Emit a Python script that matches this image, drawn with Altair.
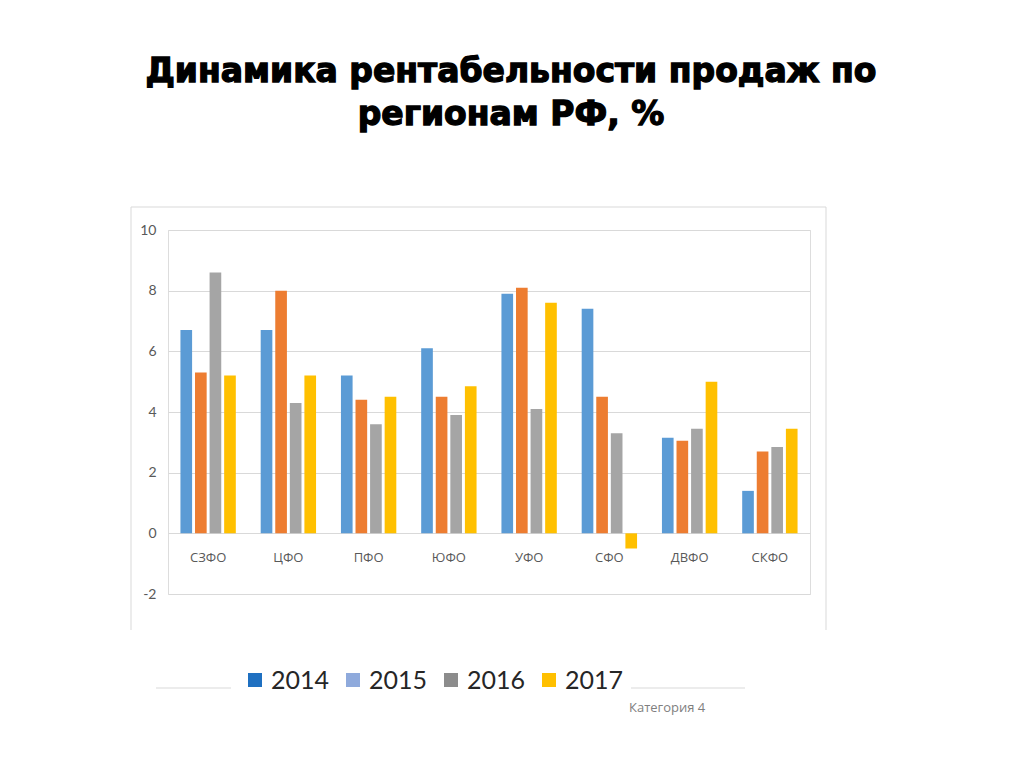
import altair as alt
import pandas as pd

regions = ["СЗФО", "ЦФО", "ПФО", "ЮФО", "УФО", "СФО", "ДВФО", "СКФО"]
years = ["2014", "2015", "2016", "2017"]
v2014 = [6.7, 6.7, 5.2, 6.1, 7.9, 7.4, 3.15, 1.4]
v2015 = [5.3, 8.0, 4.4, 4.5, 8.1, 4.5, 3.05, 2.7]
v2016 = [8.6, 4.3, 3.6, 3.9, 4.1, 3.3, 3.45, 2.85]
v2017 = [5.2, 5.2, 4.5, 4.85, 7.6, -0.5, 5.0, 3.45]
bar_colors = ["#5B9BD5", "#ED7D31", "#A5A5A5", "#FFC000"]
legend_colors = ["#1F70C1", "#8FAADC", "#8C8C8C", "#FFC000"]
title_lines = ["Динамика рентабельности продаж по", "регионам РФ, %"]
footer = "Категория 4"

rows = []
for yr, vals in zip(years, [v2014, v2015, v2016, v2017]):
    for r, v in zip(regions, vals):
        rows.append({"region": r, "year": yr, "value": v})
df = pd.DataFrame(rows)
df_reg = pd.DataFrame({"region": regions})
one = pd.DataFrame({"a": [0]})

W, H = 642, 364

xscale = alt.Scale(domain=regions, paddingInner=0.31, paddingOuter=0.155)

bars = alt.Chart(df).mark_bar().encode(
    x=alt.X("region:N", sort=regions, scale=xscale, axis=None),
    xOffset=alt.XOffset("year:N", sort=years, scale=alt.Scale(paddingInner=0.2, paddingOuter=0)),
    y=alt.Y("value:Q", scale=alt.Scale(domain=[-2, 10], nice=False),
            axis=alt.Axis(values=[-2, 0, 2, 4, 6, 8, 10], title=None, domain=False, ticks=False,
                          labelExpr="'' + datum.value",
                          labelPadding=12, labelFontSize=14, labelColor="#595959", labelFont="Lato",
                          grid=True, gridColor="#D9D9D9", gridWidth=1)),
    color=alt.Color("year:N", sort=years, scale=alt.Scale(domain=years, range=bar_colors), legend=None),
)

xlabels = alt.Chart(df_reg).mark_text(baseline="middle", fontSize=13, color="#595959", font="Open Sans").encode(
    x=alt.X("region:N", sort=regions, scale=xscale, axis=None),
    y=alt.value(328),
    text="region:N",
)

# manual legend (the reference's legend colours differ from the bar colours)
legend_layers = []
LEG_X0, LEG_STEP, LEG_Y = 80, 98, 450
for i, (yr, col) in enumerate(zip(years, legend_colors)):
    x0 = LEG_X0 + LEG_STEP * i
    legend_layers.append(
        alt.Chart(one).mark_rect(color=col).encode(
            x=alt.value(x0), x2=alt.value(x0 + 14), y=alt.value(LEG_Y - 7), y2=alt.value(LEG_Y + 7))
    )
    legend_layers.append(
        alt.Chart(one).mark_text(font="Lato", fontSize=25, color="#262626", align="left",
                                 baseline="middle").encode(
            x=alt.value(x0 + 23), y=alt.value(LEG_Y + 1), text=alt.value(yr))
    )

title_style = dict(font="DejaVu Sans", fontWeight="bold", fontSize=33, color="#000000",
                   stroke="#000000", strokeWidth=1.3, align="center", baseline="alphabetic")
t1 = alt.Chart(one).mark_text(**title_style).encode(
    x=alt.value(343), y=alt.value(-148), text=alt.value(title_lines[0]))
t2 = alt.Chart(one).mark_text(**title_style).encode(
    x=alt.value(343), y=alt.value(-105), text=alt.value(title_lines[1]))

foot = alt.Chart(one).mark_text(font="Open Sans", fontSize=13, color="#7F7F7F", align="left",
                                 baseline="middle").encode(
    x=alt.value(461), y=alt.value(478), text=alt.value(footer))

border_top = alt.Chart(one).mark_rule(color="#D9D9D9").encode(
    x=alt.value(-37), x2=alt.value(658), y=alt.value(-23))
border_left = alt.Chart(one).mark_rule(color="#D9D9D9").encode(
    x=alt.value(-37), y=alt.value(-23), y2=alt.value(400))
border_right = alt.Chart(one).mark_rule(color="#D9D9D9").encode(
    x=alt.value(658), y=alt.value(-23), y2=alt.value(400))
leg_line_l = alt.Chart(one).mark_rule(color="#D9D9D9").encode(
    x=alt.value(-12), x2=alt.value(63), y=alt.value(458))
leg_line_r = alt.Chart(one).mark_rule(color="#D9D9D9").encode(
    x=alt.value(463), x2=alt.value(577), y=alt.value(458))

chart = alt.layer(
    border_top, border_left, border_right, leg_line_l, leg_line_r,
    bars, xlabels, *legend_layers, t1, t2, foot
).properties(
    width=W, height=H,
    autosize=alt.AutoSizeParams(type="none"),
    padding={"left": 160, "top": 222, "right": 200, "bottom": 130},
).configure_view(stroke=None).configure(background="white")

chart.save("out.html", embed_options={"renderer": "svg", "actions": False})
